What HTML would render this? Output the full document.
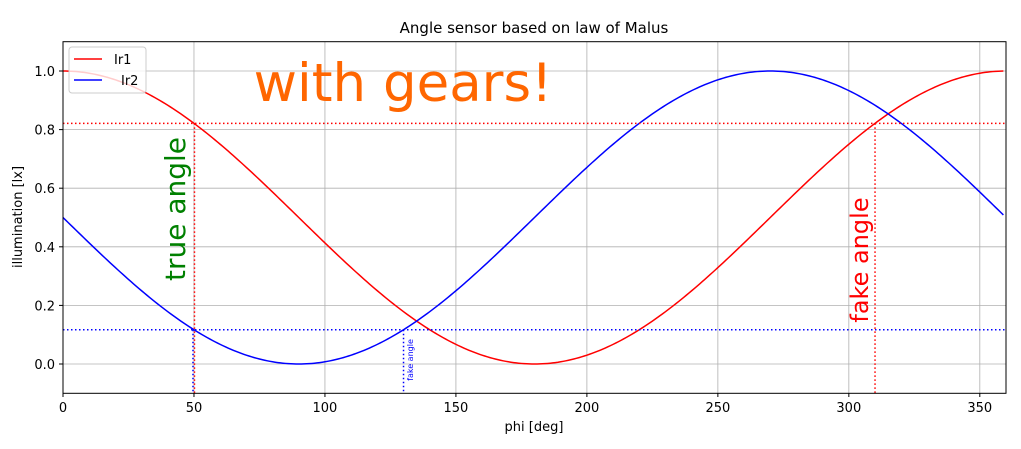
<!DOCTYPE html>
<html><head><meta charset="utf-8"><style>
body{margin:0;background:#fff;}
svg{display:block;font-family:"DejaVu Sans","Liberation Sans",sans-serif;}
</style></head><body>
<svg id="s" width="1021" height="449" viewBox="0 0 1021 449">
<rect width="1021" height="449" fill="#fff"/>
<g id="grid" stroke="#b0b0b0" stroke-width="0.8"></g>
<g id="curves"></g>
<g id="marks"></g>
<rect x="63" y="41.7" width="943" height="351.6" fill="none" stroke="#000" stroke-width="1"/>
<g id="ticks" font-size="13" fill="#000"></g>
<text x="534" y="33" font-size="15" text-anchor="middle">Angle sensor based on law of Malus</text>
<text x="534" y="431" font-size="13" text-anchor="middle">phi [deg]</text>
<text transform="translate(22,217) rotate(-90)" font-size="13" text-anchor="middle">illumination [lx]</text>
<text x="403" y="101" font-size="53" fill="#ff6600" text-anchor="middle">with gears!</text>
<text transform="translate(185,209) rotate(-90)" font-size="28" fill="green" text-anchor="middle">true angle</text>
<text transform="translate(868,260) rotate(-90)" font-size="24" fill="red" text-anchor="middle">fake angle</text>
<text transform="translate(413,360) rotate(-90)" font-size="8" fill="blue" text-anchor="middle">fake angle</text>
<g>
<rect x="69" y="47" width="77" height="46" rx="3" fill="#fff" fill-opacity="0.8" stroke="#ccc"/>
<line x1="74" y1="59" x2="102" y2="59" stroke="red" stroke-width="1.5"/>
<text x="114" y="64" font-size="13">Ir1</text>
<line x1="74" y1="80" x2="102" y2="80" stroke="blue" stroke-width="1.5"/>
<text x="121" y="85" font-size="13">Ir2</text>
</g>
</svg>
<script>
const X=p=>63+p*943/360, Y=v=>364-v*293;
const ns="http://www.w3.org/2000/svg";
function el(g,t,a){const e=document.createElementNS(ns,t);for(const k in a)e.setAttribute(k,a[k]);document.getElementById(g).appendChild(e);return e;}
for(let p=0;p<=350;p+=50){el("grid","line",{x1:X(p),x2:X(p),y1:41.7,y2:393.3});
 el("ticks","line",{x1:X(p),x2:X(p),y1:393.3,y2:397,stroke:"#000"});
 const t=el("ticks","text",{x:X(p),y:412,"text-anchor":"middle"});t.textContent=p;}
for(let v=0;v<=1.001;v+=0.2){el("grid","line",{x1:63,x2:1006,y1:Y(v),y2:Y(v)});
 el("ticks","line",{x1:59,x2:63,y1:Y(v),y2:Y(v),stroke:"#000"});
 const t=el("ticks","text",{x:55,y:Y(v)+5,"text-anchor":"end"});t.textContent=v.toFixed(1);}
function path(f,c){let d="";for(let p=0;p<=359;p+=1){const r=p*Math.PI/180;d+=(p?"L":"M")+X(p).toFixed(2)+","+Y(f(r)).toFixed(2);}
 el("curves","path",{d:d,fill:"none",stroke:c,"stroke-width":1.5});}
path(r=>(1+Math.cos(r))/2,"red");path(r=>(1-Math.sin(r))/2,"blue");
const a=(1+Math.cos(50*Math.PI/180))/2,b=(1-Math.sin(50*Math.PI/180))/2;
const da={"stroke-dasharray":"1.5,2.5","stroke-width":1.5,fill:"none"};
function dl(x1,y1,x2,y2,c){el("marks","line",Object.assign({x1,y1,x2,y2,stroke:c},da));}
dl(63,Y(a),1006,Y(a),"red");dl(63,Y(b),1006,Y(b),"blue");
dl(X(50)+0.5,Y(a),X(50)+0.5,393,"red");dl(X(50)-1,Y(b),X(50)-1,393,"blue");
dl(X(130),Y(b),X(130),393,"blue");dl(X(310),Y(a),X(310),393,"red");
</script>
</body></html>
